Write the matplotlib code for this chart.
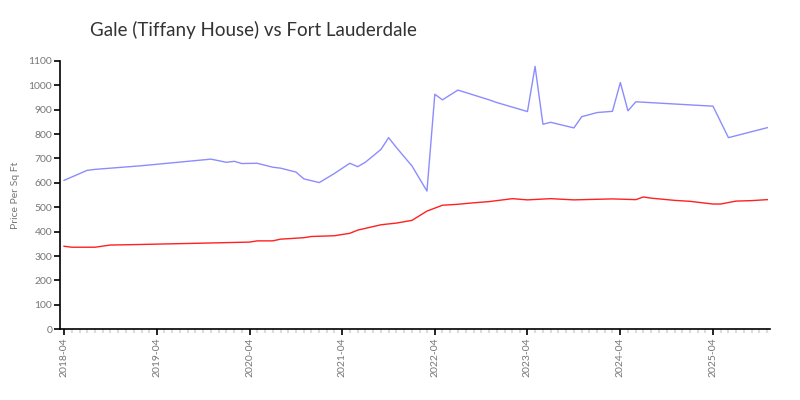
import numpy as np
import pandas as pd
import matplotlib
matplotlib.use('Agg')
import matplotlib.pyplot as plt
import matplotlib.dates as mdates

# months after 2018-04 and price per sq ft
gale_months = [0, 3, 4, 10, 19, 21, 22, 23, 25, 27, 28, 30, 31, 33, 35, 37, 38, 39,
               41, 42, 43, 45, 47, 48, 49, 51, 55, 56, 60, 61, 62, 63, 66, 67,
               69, 71, 72, 73, 74, 84, 86, 91]
gale_price = [610, 651, 655, 670, 697, 684, 688, 679, 680, 664, 660, 644, 616, 601,
              638, 680, 666, 684, 737, 785, 744, 669, 566, 963, 940, 980, 940,
              929, 892, 1077, 840, 848, 825, 871, 888, 893, 1011, 895, 932,
              914, 785, 826]

ftl_months = [0, 1, 4, 6, 8, 17, 24, 25, 27, 28, 31, 32, 35, 37, 38, 41, 43,
              45, 47, 49, 51, 53, 55, 58, 60, 63, 66, 71, 74, 75, 76, 79, 81,
              84, 85, 87, 89, 91]
ftl_price = [340, 336, 336, 345, 346, 352, 357, 362, 362, 369, 375, 380, 383,
             393, 406, 428, 435, 446, 484, 508, 512, 518, 523, 535, 530, 535,
             530, 534, 531, 542, 537, 528, 524, 513, 513, 525, 527, 531]

title = 'Gale (Tiffany House) vs Fort Lauderdale'
y_label = 'Price Per Sq Ft'


def to_dates(months):
    return [pd.Timestamp('2018-04-01') + pd.DateOffset(months=m) for m in months]


def main():
    plt.rcParams['font.family'] = ['Lato', 'DejaVu Sans']
    fig = plt.figure(figsize=(8, 4), dpi=100)
    ax = fig.add_axes([0.0756, 0.177, 0.887, 0.671])

    ax.plot(to_dates(gale_months), gale_price, color='#8c8cff', lw=1.0)
    ax.plot(to_dates(ftl_months), ftl_price, color='#ff2020', lw=1.0)

    ax.set_ylim(0, 1100)
    ax.set_yticks(range(0, 1101, 100))
    ax.set_xlim(pd.Timestamp('2018-03-18'), pd.Timestamp('2025-11-12'))
    ax.xaxis.set_major_locator(mdates.MonthLocator(bymonth=4))
    ax.xaxis.set_major_formatter(mdates.DateFormatter('%Y-%m'))
    ax.xaxis.set_minor_locator(mdates.MonthLocator())

    for side in ('top', 'right'):
        ax.spines[side].set_visible(False)
    for side in ('left', 'bottom'):
        ax.spines[side].set_color('black')
        ax.spines[side].set_linewidth(1.2)

    ax.tick_params(axis='both', which='major', length=4, width=1.2, color='black',
                   labelsize=7.5, labelcolor='#777777', pad=2)
    ax.tick_params(axis='x', which='minor', length=3, width=1.5, color='#dcdcdc')
    plt.setp(ax.get_xticklabels(), rotation=90)

    ax.set_ylabel(y_label, fontsize=7.5, color='#777777', labelpad=6)
    fig.text(0.1125, 0.925, title, fontsize=13.5, color='#333333',
             ha='left', va='center')

    fig.savefig('out.png', dpi=100)


if __name__ == '__main__':
    main()
